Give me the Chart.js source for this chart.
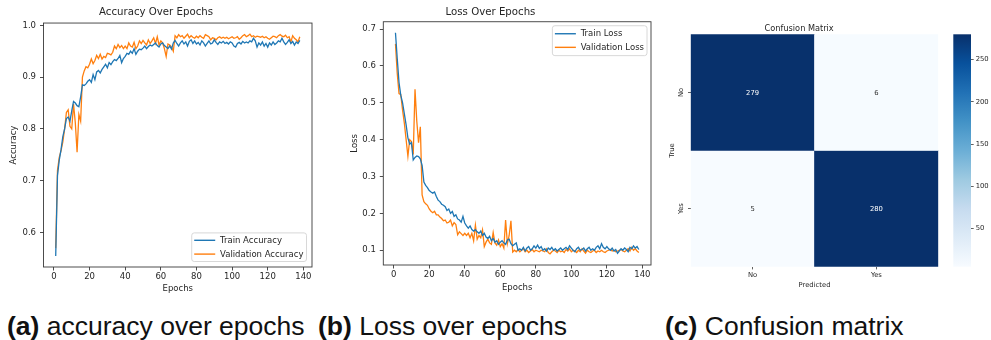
<!DOCTYPE html>
<html>
<head>
<meta charset="utf-8">
<title>Training curves and confusion matrix</title>
<script src="https://cdn.jsdelivr.net/npm/chart.js@4.4.1/dist/chart.umd.min.js"></script>
<style>
  html, body { margin: 0; padding: 0; background: #fff; }
  #fig { position: relative; width: 991px; height: 340px; overflow: hidden; background: #fff; }
  #fig canvas { position: absolute; top: 0; }
  .cap { position: absolute; top: 311px; font-family: "Liberation Sans", Arial, sans-serif;
         font-size: 26.5px; line-height: 30px; color: #111; white-space: nowrap; }
  .cap b { font-weight: bold; }
</style>
</head>
<body>
<div id="fig">
  <canvas id="acc"  width="330" height="298" style="left:0px"></canvas>
  <canvas id="loss" width="330" height="298" style="left:330px"></canvas>
  <canvas id="cm"   width="290" height="298" style="left:660px"></canvas>
  <canvas id="cbar" width="51"  height="298" style="left:940px"></canvas>
  <div class="cap" style="left:7px"><b>(a)</b> accuracy over epochs</div>
  <div class="cap" style="left:318px"><b>(b)</b> Loss over epochs</div>
  <div class="cap" style="left:665px"><b>(c)</b> Confusion matrix</div>
</div>
<script>
// ---- training history (one value per epoch) ----
const trainAcc = [
  0.555, 0.710, 0.740, 0.760, 0.785, 0.800, 0.820, 0.823, 0.815, 0.835,
  0.853, 0.850, 0.845, 0.843, 0.862, 0.885, 0.884, 0.887, 0.892, 0.895,
  0.890, 0.905, 0.895, 0.910, 0.913, 0.908, 0.915, 0.920, 0.925, 0.918,
  0.928, 0.924, 0.930, 0.934, 0.932, 0.936, 0.942, 0.928, 0.936, 0.940,
  0.946, 0.944, 0.950, 0.946, 0.955, 0.944, 0.950, 0.954, 0.953, 0.956,
  0.960, 0.955, 0.959, 0.962, 0.960, 0.963, 0.966, 0.961, 0.958, 0.964,
  0.966, 0.961, 0.958, 0.955, 0.960, 0.954, 0.966, 0.971, 0.965, 0.960,
  0.966, 0.970, 0.964, 0.968, 0.960, 0.969, 0.972, 0.965, 0.970, 0.964,
  0.967, 0.962, 0.970, 0.966, 0.960, 0.965, 0.970, 0.964, 0.966, 0.972,
  0.967, 0.963, 0.968, 0.966, 0.969, 0.965, 0.967, 0.964, 0.968, 0.966,
  0.960, 0.958, 0.965, 0.967, 0.964, 0.969, 0.966, 0.968, 0.966, 0.970,
  0.968, 0.975, 0.970, 0.958, 0.966, 0.962, 0.968, 0.960, 0.965, 0.958,
  0.966, 0.962, 0.968, 0.963, 0.966, 0.970, 0.968, 0.975, 0.968, 0.963,
  0.967, 0.972, 0.965, 0.969, 0.962, 0.968, 0.965, 0.971
];
const valAcc = [
  0.570, 0.720, 0.745, 0.758, 0.775, 0.800, 0.832, 0.837, 0.805, 0.800,
  0.848, 0.812, 0.755, 0.828, 0.815, 0.900, 0.912, 0.920, 0.918, 0.925,
  0.935, 0.926, 0.932, 0.942, 0.936, 0.944, 0.935, 0.940, 0.938, 0.946,
  0.945, 0.943, 0.948, 0.960, 0.955, 0.963, 0.957, 0.961, 0.955, 0.960,
  0.955, 0.966, 0.960, 0.958, 0.967, 0.955, 0.960, 0.970, 0.965, 0.971,
  0.966, 0.962, 0.972, 0.965, 0.970, 0.976, 0.965, 0.978, 0.962, 0.970,
  0.966, 0.955, 0.940, 0.964, 0.962, 0.958, 0.950, 0.980, 0.976, 0.982,
  0.978, 0.980, 0.975, 0.979, 0.983, 0.976, 0.980, 0.977, 0.975, 0.979,
  0.976, 0.980, 0.977, 0.975, 0.982, 0.980, 0.978, 0.972, 0.976, 0.975,
  0.972, 0.976, 0.978, 0.975, 0.977, 0.975, 0.977, 0.974, 0.976, 0.978,
  0.975, 0.976, 0.978, 0.973, 0.976, 0.980, 0.982, 0.978, 0.980, 0.983,
  0.978, 0.980, 0.977, 0.979, 0.978, 0.977, 0.979, 0.976, 0.978, 0.975,
  0.973, 0.976, 0.979, 0.978, 0.976, 0.980, 0.982, 0.979, 0.978, 0.981,
  0.976, 0.978, 0.968, 0.980, 0.975, 0.972, 0.968, 0.978
];
const trainLoss = [
  0.690, 0.620, 0.555, 0.520, 0.500, 0.470, 0.440, 0.405, 0.388, 0.392,
  0.345, 0.352, 0.356, 0.354, 0.348, 0.330, 0.285, 0.276, 0.270, 0.262,
  0.258, 0.255, 0.258, 0.246, 0.236, 0.232, 0.225, 0.222, 0.218, 0.208,
  0.212, 0.200, 0.205, 0.192, 0.196, 0.185, 0.182, 0.176, 0.192, 0.174,
  0.166, 0.160, 0.166, 0.156, 0.152, 0.156, 0.150, 0.146, 0.152, 0.140,
  0.146, 0.136, 0.132, 0.138, 0.126, 0.132, 0.122, 0.126, 0.116, 0.122,
  0.126, 0.120, 0.116, 0.128, 0.130, 0.118, 0.112, 0.116, 0.120, 0.100,
  0.104, 0.100, 0.108, 0.098, 0.106, 0.110, 0.100, 0.104, 0.112, 0.106,
  0.114, 0.105, 0.110, 0.100, 0.104, 0.098, 0.106, 0.102, 0.108, 0.100,
  0.104, 0.098, 0.102, 0.106, 0.100, 0.104, 0.108, 0.102, 0.112, 0.106,
  0.100, 0.096, 0.104, 0.108, 0.100, 0.102, 0.106, 0.098, 0.104, 0.108,
  0.100, 0.104, 0.100, 0.108, 0.112, 0.104, 0.118, 0.108, 0.104, 0.110,
  0.104, 0.100, 0.106, 0.098, 0.102, 0.092, 0.098, 0.104, 0.100, 0.106,
  0.102, 0.096, 0.108, 0.104, 0.112, 0.106, 0.110, 0.102
];
const valLoss = [
  0.660, 0.580, 0.525, 0.522, 0.480, 0.445, 0.400, 0.355, 0.400, 0.395,
  0.360, 0.537, 0.450, 0.392, 0.435, 0.250, 0.232, 0.226, 0.222, 0.212,
  0.206, 0.202, 0.206, 0.196, 0.196, 0.190, 0.186, 0.180, 0.182, 0.174,
  0.176, 0.182, 0.166, 0.175, 0.170, 0.142, 0.150, 0.145, 0.140, 0.146,
  0.140, 0.146, 0.134, 0.146, 0.126, 0.168, 0.130, 0.140, 0.134, 0.155,
  0.110, 0.122, 0.130, 0.120, 0.116, 0.148, 0.120, 0.114, 0.128, 0.110,
  0.118, 0.106, 0.182, 0.118, 0.140, 0.180, 0.095, 0.100, 0.096, 0.102,
  0.096, 0.100, 0.104, 0.096, 0.100, 0.094, 0.098, 0.102, 0.096, 0.100,
  0.098, 0.096, 0.100, 0.098, 0.096, 0.104, 0.094, 0.090, 0.096, 0.100,
  0.098, 0.094, 0.100, 0.096, 0.098, 0.094, 0.102, 0.098, 0.104, 0.096,
  0.100, 0.098, 0.094, 0.100, 0.096, 0.104, 0.098, 0.092, 0.100, 0.096,
  0.094, 0.098, 0.100, 0.094, 0.098, 0.096, 0.100, 0.096, 0.094, 0.098,
  0.100, 0.102, 0.098, 0.100, 0.096, 0.098, 0.100, 0.102, 0.098, 0.096,
  0.100, 0.104, 0.098, 0.108, 0.100, 0.104, 0.098, 0.094
];
const epochs = trainAcc.map((_, i) => i + 1);

// tick labels
const epochTicks = [0, 20, 40, 60, 80, 100, 120, 140];
const accTicks = [0.6, 0.7, 0.8, 0.9, 1.0];
const lossTicks = [0.1, 0.2, 0.3, 0.4, 0.5, 0.6, 0.7];

// ---- confusion matrix ----
const classLabels = ['No', 'Yes'];
const cmTrueNo = [279, 6];
const cmTrueYes = [5, 280];
const cbarTicks = [50, 100, 150, 200, 250];

// ---- styling ----
const FONT = "'DejaVu Sans', sans-serif";
const BLUE = '#1f77b4';
const ORANGE = '#ff7f0e';
const INK = '#262626';
const SPINE = '#3a3a3a';

// matplotlib-style autoscale: data range plus 5% on each side
function padded(arrays) {
  const all = [].concat(...arrays);
  const lo = Math.min(...all), hi = Math.max(...all);
  const m = (hi - lo) * 0.05;
  return { min: lo - m, max: hi + m };
}
const toPoints = ys => ys.map((y, i) => ({ x: epochs[i], y }));

// full rectangle frame around the plotting area
const framePlugin = {
  id: 'frame',
  afterDraw(chart, args, o) {
    if (!o.show) return;
    const { ctx, chartArea: a } = chart;
    ctx.save();
    ctx.strokeStyle = SPINE;
    ctx.lineWidth = 0.9;
    ctx.strokeRect(a.left, a.top, a.right - a.left, a.bottom - a.top);
    ctx.restore();
  }
};

// boxed legend drawn inside the axes
const boxLegend = {
  id: 'boxLegend',
  afterDatasetsDraw(chart, args, o) {
    if (!o.corner) return;
    const { ctx, chartArea: a } = chart;
    const labels = chart.data.datasets.map(d => d.label);
    ctx.save();
    ctx.font = `${o.size}px ${FONT}`;
    const tw = Math.max(...labels.map(l => ctx.measureText(l).width));
    const w = o.padL + o.handle + o.gap + tw + o.padR;
    const h = o.padT + o.row * labels.length + o.padB;
    const x = a.right - o.inset - w;
    const y = o.corner === 'lower right' ? a.bottom - o.inset - h : a.top + o.inset;
    ctx.beginPath();
    ctx.roundRect(x, y, w, h, 2.5);
    ctx.fillStyle = 'rgba(255,255,255,0.85)';
    ctx.fill();
    ctx.strokeStyle = '#d4d4d4';
    ctx.lineWidth = 0.9;
    ctx.stroke();
    chart.data.datasets.forEach((d, i) => {
      const cy = y + o.padT + o.row * (i + 0.5);
      ctx.beginPath();
      ctx.moveTo(x + o.padL, cy);
      ctx.lineTo(x + o.padL + o.handle, cy);
      ctx.strokeStyle = d.borderColor;
      ctx.lineWidth = 1.4;
      ctx.stroke();
      ctx.fillStyle = INK;
      ctx.textAlign = 'left';
      ctx.textBaseline = 'middle';
      ctx.fillText(d.label, x + o.padL + o.handle + o.gap, cy + 0.5);
    });
    ctx.restore();
  }
};

function tickGrid(len) {
  return { display: true, drawOnChartArea: false, drawTicks: true, tickLength: len, color: SPINE, lineWidth: 0.9 };
}

function historyChart(id, cfg) {
  const lim = padded([cfg.a, cfg.b]);
  return new Chart(document.getElementById(id), {
    type: 'line',
    data: {
      datasets: [
        { label: cfg.labels[0], data: toPoints(cfg.a), borderColor: BLUE, borderWidth: 1.3, pointRadius: 0, tension: 0 },
        { label: cfg.labels[1], data: toPoints(cfg.b), borderColor: ORANGE, borderWidth: 1.3, pointRadius: 0, tension: 0 }
      ]
    },
    options: {
      responsive: false, animation: false, devicePixelRatio: 1,
      layout: { padding: { left: 0, right: cfg.padRight, top: 0, bottom: 0 } },
      plugins: {
        legend: { display: false },
        tooltip: { enabled: false },
        title: { display: true, text: cfg.title, color: INK,
                 font: { family: FONT, size: 10.2, weight: 'normal' },
                 padding: { top: 6.6, bottom: cfg.titleBottom } },
        frame: { show: true },
        boxLegend: cfg.legend
      },
      scales: {
        x: {
          type: 'linear', min: epochs[0] - (epochs[epochs.length - 1] - epochs[0]) * 0.05,
          max: epochs[epochs.length - 1] + (epochs[epochs.length - 1] - epochs[0]) * 0.05,
          afterBuildTicks: s => { s.ticks = epochTicks.map(v => ({ value: v })); },
          afterFit: s => { s.height = cfg.xHeight; },
          grid: tickGrid(3.5), border: { display: false },
          ticks: { color: INK, font: { family: FONT, size: 8.5 }, padding: 1.4, maxRotation: 0,
                   callback: v => String(v) },
          title: { display: true, text: 'Epochs', color: INK, font: { family: FONT, size: 8.5 },
                   padding: { top: 0, bottom: cfg.xTitlePad } }
        },
        y: {
          type: 'linear', min: lim.min, max: lim.max,
          afterBuildTicks: s => { s.ticks = cfg.yTicks.map(v => ({ value: v })); },
          afterFit: s => { s.width = cfg.yWidth; },
          grid: tickGrid(3.5), border: { display: false },
          ticks: { color: INK, font: { family: FONT, size: 8.5 }, padding: 4,
                   callback: v => v.toFixed(1) },
          title: { display: true, text: cfg.yTitle, color: INK, font: { family: FONT, size: 8.5 },
                   padding: { top: cfg.yTitlePad, bottom: 0 } }
        }
      }
    },
    plugins: [framePlugin, boxLegend]
  });
}

historyChart('acc', {
  a: trainAcc, b: valAcc, labels: ['Train Accuracy', 'Validation Accuracy'],
  title: 'Accuracy Over Epochs', yTitle: 'Accuracy', yTicks: accTicks,
  padRight: 18, titleBottom: 4.2, xHeight: 31, xTitlePad: 3.9, yWidth: 43.5, yTitlePad: 8.9,
  legend: { corner: 'lower right', size: 8.5, inset: 5.5, padL: 2.5, handle: 21, gap: 4.8, padR: 3, padT: 0.5, padB: 0.5, row: 13.8 }
});
historyChart('loss', {
  a: trainLoss, b: valLoss, labels: ['Train Loss', 'Validation Loss'],
  title: 'Loss Over Epochs', yTitle: 'Loss', yTicks: lossTicks,
  padRight: 9, titleBottom: 2.9, xHeight: 33, xTitlePad: 5.6, yWidth: 53.3, yTitlePad: 19.9,
  legend: { corner: 'upper right', size: 8.5, inset: 4, padL: 2.5, handle: 21, gap: 4.8, padR: 3, padT: 1.2, padB: 1.5, row: 13.6 }
});

// ---- Blues colour map ----
const BLUES = ['#f7fbff', '#deebf7', '#c6dbef', '#9ecae1', '#6baed6', '#4292c6', '#2171b5', '#08519c', '#08306b'];
function hexRgb(h) { return [1, 3, 5].map(i => parseInt(h.slice(i, i + 2), 16)); }
function blues(t) {
  t = Math.max(0, Math.min(1, t));
  const p = t * (BLUES.length - 1), i = Math.min(Math.floor(p), BLUES.length - 2), f = p - i;
  const a = hexRgb(BLUES[i]), b = hexRgb(BLUES[i + 1]);
  return `rgb(${a.map((v, k) => Math.round(v + (b[k] - v) * f)).join(',')})`;
}
const cmRows = [cmTrueNo, cmTrueYes];
const cmAll = [].concat(...cmRows);
const vmin = Math.min(...cmAll), vmax = Math.max(...cmAll);
const norm = v => (v - vmin) / (vmax - vmin);

// cell annotations and rotated row labels
const heatText = {
  id: 'heatText',
  afterDraw(chart) {
    const { ctx, chartArea: a, scales: { x, y } } = chart;
    ctx.save();
    ctx.font = `6.8px ${FONT}`;
    ctx.textAlign = 'center';
    ctx.textBaseline = 'middle';
    cmRows.forEach((row, r) => {
      row.forEach((v, c) => {
        ctx.fillStyle = norm(v) > 0.5 ? '#ffffff' : INK;
        ctx.fillText(String(v), x.getPixelForValue(c), y.getPixelForValue(r + 0.5) + 0.5);
      });
    });
    classLabels.forEach((lab, r) => {
      ctx.save();
      ctx.translate(a.left - 9, y.getPixelForValue(r + 0.5));
      ctx.rotate(-Math.PI / 2);
      ctx.fillStyle = INK;
      ctx.fillText(lab, 0, 0);
      ctx.restore();
    });
    ctx.restore();
  }
};

new Chart(document.getElementById('cm'), {
  type: 'bar',
  data: {
    labels: classLabels,
    datasets: cmRows.map((row, r) => ({
      label: classLabels[r],
      data: row.map(() => [r, r + 1]),
      backgroundColor: row.map(v => blues(norm(v))),
      borderWidth: 0, grouped: false, barPercentage: 1, categoryPercentage: 1
    }))
  },
  options: {
    responsive: false, animation: false, devicePixelRatio: 1,
    layout: { padding: { left: 0, right: 11.7, top: 0, bottom: 0 } },
    plugins: {
      legend: { display: false }, tooltip: { enabled: false },
      title: { display: true, text: 'Confusion Matrix', color: INK,
               font: { family: FONT, size: 8.2, weight: 'normal' }, padding: { top: 24.4, bottom: 0 } }
    },
    scales: {
      x: {
        type: 'category', offset: true,
        afterFit: s => { s.height = 31.3; },
        grid: { display: true, drawOnChartArea: false, drawTicks: true, tickLength: 2.7, color: SPINE, lineWidth: 0.8, offset: false },
        border: { display: false },
        ticks: { color: INK, font: { family: FONT, size: 6.8 }, padding: 2.2, maxRotation: 0 },
        title: { display: true, text: 'Predicted', color: INK, font: { family: FONT, size: 6.8 },
                 padding: { top: 0, bottom: 8.2 } }
      },
      y: {
        type: 'linear', min: 0, max: classLabels.length, reverse: true,
        afterBuildTicks: s => { s.ticks = classLabels.map((_, i) => ({ value: i + 0.5 })); },
        afterFit: s => { s.width = 30.7; },
        grid: { display: true, drawOnChartArea: false, drawTicks: true, tickLength: 2.7, color: SPINE, lineWidth: 0.8 },
        border: { display: false },
        ticks: { display: false },
        title: { display: true, text: 'True', color: INK, font: { family: FONT, size: 6.8 },
                 padding: { top: 8.6, bottom: 0 } }
      }
    }
  },
  plugins: [heatText]
});

// colour bar: gradient strip plus its value axis
const cbarFill = {
  id: 'cbarFill',
  beforeDatasetsDraw(chart) {
    const { ctx, chartArea: a } = chart;
    const g = ctx.createLinearGradient(0, a.bottom, 0, a.top);
    BLUES.forEach((c, i) => g.addColorStop(i / (BLUES.length - 1), c));
    ctx.save();
    ctx.fillStyle = g;
    ctx.fillRect(a.left, a.top, a.right - a.left, a.bottom - a.top);
    ctx.restore();
  }
};
new Chart(document.getElementById('cbar'), {
  type: 'bar',
  data: { labels: [''], datasets: [{ data: [] }] },
  options: {
    responsive: false, animation: false, devicePixelRatio: 1,
    layout: { padding: { left: 13.3, right: 0, top: 34.3, bottom: 31.3 } },
    plugins: { legend: { display: false }, tooltip: { enabled: false } },
    scales: {
      x: { display: false },
      y: {
        position: 'right', min: vmin, max: vmax,
        afterBuildTicks: s => { s.ticks = cbarTicks.map(v => ({ value: v })); },
        afterFit: s => { s.width = 20; },
        grid: { display: true, drawOnChartArea: false, drawTicks: true, tickLength: 2.7, color: SPINE, lineWidth: 0.8 },
        border: { display: false },
        ticks: { color: INK, font: { family: FONT, size: 6.8 }, padding: 2 }
      }
    }
  },
  plugins: [cbarFill]
});
</script>
</body>
</html>
